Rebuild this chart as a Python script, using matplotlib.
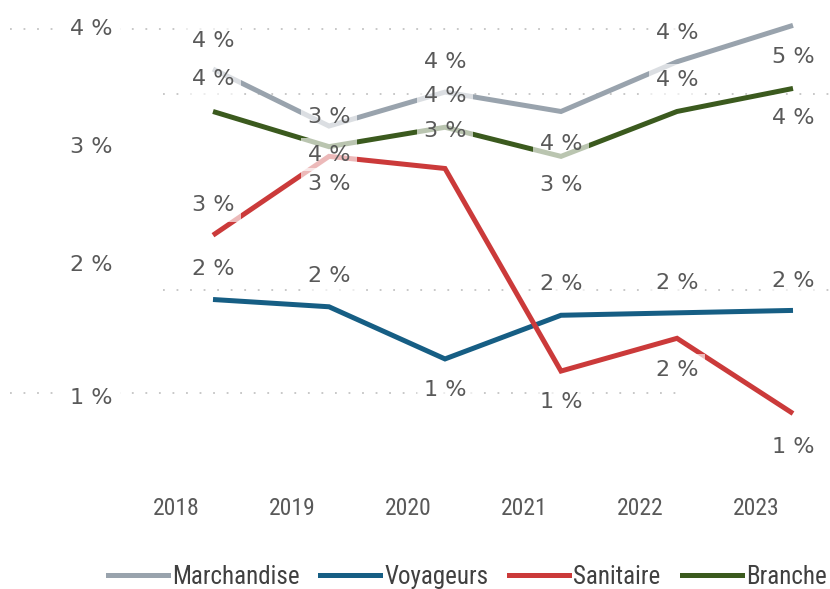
import matplotlib
matplotlib.use("Agg")
import matplotlib.pyplot as plt
from matplotlib.lines import Line2D
import numpy as np

# ---------------- data ----------------
years = ["2018", "2019", "2020", "2021", "2022", "2023"]
series_names = ["Marchandise", "Voyageurs", "Sanitaire", "Branche"]

marchandise = [3.67, 3.20, 3.48, 3.32, 3.73, 4.03]
voyageurs = [1.77, 1.71, 1.28, 1.64, 1.66, 1.68]
sanitaire = [2.30, 2.95, 2.85, 1.18, 1.45, 0.83]
branche = [3.32, 3.03, 3.19, 2.95, 3.32, 3.51]

marchandise_labels = ["4 %", "3 %", "4 %", "4 %", "4 %", "5 %"]
voyageurs_labels = ["2 %", "2 %", "1 %", "2 %", "2 %", "2 %"]
sanitaire_labels = ["3 %", "3 %", "3 %", "1 %", "2 %", "1 %"]
branche_labels = ["4 %", "4 %", "4 %", "3 %", "4 %", "4 %"]

ytick_values = [4.016, 3.044, 2.071, 0.974]
ytick_labels = ["4 %", "3 %", "2 %", "1 %"]
grid_values = [4.0, 3.464, 1.848, 1.0]

# ---------------- style / layout ----------------
colors = ["#99a3ad", "#165e84", "#cb3a3a", "#3b5a1e"]
label_offsets = [  # pixel offsets of data labels (negative = above)
    [-28, -9, -30, 33, -29, 32],
    [-30, -31, 31, -31, -30, -29],
    [-30, 28, -37, 31, 32, 33],
    [-32, 8, -31, 29, -31, 30],
]
grid_spans_px = [(10, 680), (163, 830), (163, 830), (10, 683)]
narrow_font = ["Roboto Condensed", "DejaVu Sans"]

W, H = 830, 589
fig = plt.figure(figsize=(W / 100, H / 100), dpi=100)
ax = fig.add_axes([0, 0, 1, 1])

# pixel mapping: x index 0 -> 213 px, step 116 px; value 4.0 -> 29 px, 121.3 px per %
x0_px, dx_px = 213.0, 116.0
y4_px, dy_px = 29.0, 121.3
ax.set_xlim(-x0_px / dx_px, (W - x0_px) / dx_px)
ax.set_ylim(4 - (H - y4_px) / dy_px, 4 + y4_px / dy_px)
for s in ax.spines.values():
    s.set_visible(False)
ax.set_facecolor("white")

x = np.arange(len(years))

def px_to_x(p):
    return (p - x0_px) / dx_px

# gridlines
for gv, (a, b) in zip(grid_values, grid_spans_px):
    ax.hlines(gv, px_to_x(a), px_to_x(b), colors="#c4c4c4",
              linestyles=(0, (1.0, 6.5)), linewidth=1.3, zorder=0)

all_vals = [marchandise, voyageurs, sanitaire, branche]
all_labels = [marchandise_labels, voyageurs_labels, sanitaire_labels, branche_labels]

for i, (vals, name) in enumerate(zip(all_vals, series_names)):
    ax.plot(x, vals, color=colors[i], linewidth=3.6, solid_capstyle="butt",
            solid_joinstyle="miter", zorder=2 + i, label=name)

# data labels with translucent white boxes
for i, (vals, labs) in enumerate(zip(all_vals, all_labels)):
    for j, (v, t) in enumerate(zip(vals, labs)):
        ax.annotate(t, (x[j], v), xytext=(0, -label_offsets[i][j]),
                    textcoords="offset pixels", ha="center", va="center",
                    fontsize=16, color="#595959", family="DejaVu Sans",
                    zorder=10,
                    bbox=dict(boxstyle="square,pad=0.3", fc="white", ec="none", alpha=0.65))

# y tick labels (inside the full-figure axes)
ax.set_yticks(ytick_values)
ax.set_yticklabels(ytick_labels)
ax.tick_params(axis="y", length=0, pad=-113 * 0.72, labelsize=16, labelcolor="#595959")
for lab in ax.get_yticklabels():
    lab.set_fontfamily("DejaVu Sans")
    lab.set_bbox(dict(boxstyle="square,pad=0.3", fc="white", ec="none"))
    lab.set_zorder(10)

# x tick labels (years), offset left of points as in the reference
ax.set_xticks(x - 0.32)
ax.set_xticklabels(years)
ax.tick_params(axis="x", length=0, pad=-(H - 497) * 0.72, labelsize=17, labelcolor="#595959")
for lab in ax.get_xticklabels():
    lab.set_fontfamily(narrow_font)

handles = [Line2D([0], [0], color=c, linewidth=3.6) for c in colors]
leg = fig.legend(handles, series_names, loc="center", bbox_to_anchor=(467 / W, 1 - 577 / H),
                 ncol=4, frameon=False, handlelength=2.4, handletextpad=0.16,
                 columnspacing=0.84, prop={"family": narrow_font, "size": 18})
for t in leg.get_texts():
    t.set_color("#404040")

fig.savefig("out.png", dpi=100, facecolor="white")
